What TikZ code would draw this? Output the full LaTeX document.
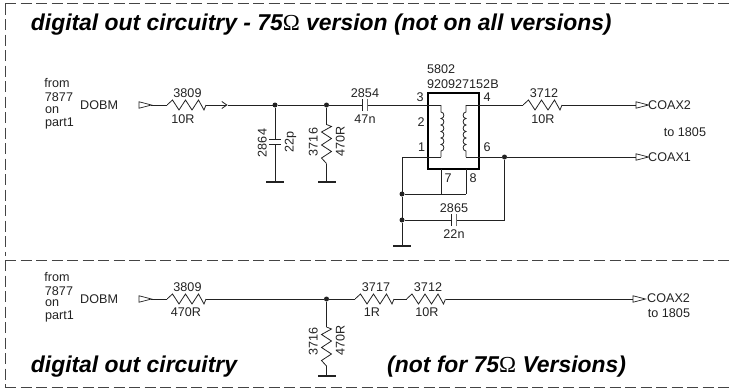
\documentclass[tikz,border=0pt]{standalone}
\usepackage{fontspec}
\usepackage{xcolor}
\usetikzlibrary{arrows.meta,shapes.geometric}
\setmainfont{Liberation Sans}
\newfontfamily\omegafont{Liberation Serif}
\definecolor{wireGrey}{HTML}{222222}
\definecolor{frameGrey}{HTML}{444444}
\newcommand{\ohm}{{\omegafont\mdseries\upshape\symbol{"03A9}}}
\tikzset{
    res/.style={minimum width=39pt, minimum height=12pt, inner sep=0, outer sep=0, path picture={
        \draw[wireGrey, line width=0.8] ([xshift=-19.5pt]path picture bounding box.center) -- ++(5.5pt,5pt) -- ++(6.5pt,-10pt) -- ++(6.5pt,10pt) -- ++(6.5pt,-10pt) -- ++(6.5pt,10pt) -- ++(5.5pt,-10pt) -- ++(2pt,5pt);
    }},
    capa/.style={minimum width=6pt, minimum height=12pt, inner sep=0, outer sep=0, path picture={
        \draw[wireGrey, line width=0.8] ([xshift=-2.5pt,yshift=-6pt]path picture bounding box.center) -- ++(0,12pt);
        \draw[wireGrey, line width=0.8] ([xshift=2.5pt,yshift=-6pt]path picture bounding box.center) -- ++(0,12pt);
    }},
    gnd/.style={rectangle, fill=wireGrey, minimum width=18pt, minimum height=2.4pt, inner sep=0, outer sep=0},
    dot/.style={circle, fill=wireGrey, minimum size=5pt, inner sep=0, outer sep=0},
    port/.style={isosceles triangle, isosceles triangle stretches, draw=wireGrey, line width=0.7, fill=white, minimum width=6.5pt, minimum height=12.5pt, inner sep=0, outer sep=0},
    lbl/.style={font=\fontsize{12.6}{13}\selectfont, text=wireGrey, inner sep=0, text height=9pt, text depth=0pt},
    title/.style={font=\fontsize{22.9}{24}\selectfont\bfseries\itshape, text=black, inner sep=0, anchor=base west},
    wire/.style={color=wireGrey, line width=0.8},
    frameline/.style={color=frameGrey, line width=0.8, dash pattern=on 11pt off 4.5pt}
}
\begin{document}
\begin{tikzpicture}[x=1pt, y=-1pt]
    \useasboundingbox (0,0) rectangle (731,388);

    % frame
    \coordinate (f1) at (5,3.5);
    \coordinate (f2) at (731,3.5);
    \coordinate (f3) at (5,256);
    \coordinate (f4) at (5,260);
    \coordinate (f5) at (731,260);
    \coordinate (f6) at (5,387);
    \coordinate (f7) at (731,387);

    % titles
    \node[title] (title1) at (30.7,30) {digital out circuitry - 75\ohm{} version (not on all versions)};
    \node[title] (title2) at (30.7,372) {digital out circuitry};
    \node[title] (title3) at (387,372) {(not for 75\ohm{} Versions)};

    % upper circuit
    \node[port] (dobm1) at (141.5,105) {};
    \node[res] (r3809a) at (186.5,105) {};
    \coordinate (chev) at (227.5,105);
    \node[dot] (j1) at (275,105) {};
    \node[dot] (j2) at (326.5,105) {};
    \node[capa] (c2854) at (364.5,105) {};
    \node[capa, rotate=90] (c2864) at (275,141.5) {};
    \node[gnd] (g1) at (275,182) {};
    \node[res, rotate=90] (r3716a) at (326.5,144) {};
    \node[gnd] (g2) at (326.5,182) {};
    \node[rectangle, draw=black, line width=2, minimum width=51pt, minimum height=76pt, inner sep=0, outer sep=0] (t5802) at (453.5,131) {};
    \coordinate (coil1a) at (441,105);
    \coordinate (coil1b) at (441,157);
    \coordinate (coil2a) at (466,105);
    \coordinate (coil2b) at (466,157);
    \coordinate (pin7) at (441,169);
    \coordinate (pin8) at (466,169);
    \coordinate (pin7b) at (441,194);
    \coordinate (pin8b) at (466,194);
    \coordinate (left1) at (402,157);
    \node[dot] (j3) at (402,194) {};
    \node[dot] (j4) at (402,220) {};
    \node[gnd] (g3) at (402,246) {};
    \node[dot] (j5) at (504.5,157) {};
    \coordinate (corner1) at (504.5,220);
    \node[capa] (c2865) at (453.5,220) {};
    \node[res] (r3712a) at (542.5,105) {};
    \node[port] (coax2a) at (638.5,105) {};
    \node[port] (coax1) at (638.5,157) {};

    % lower circuit
    \node[port] (dobm2) at (141.5,299) {};
    \node[res] (r3809b) at (186.5,299) {};
    \node[dot] (j6) at (326.5,299) {};
    \node[res, rotate=90] (r3716b) at (326.5,346.5) {};
    \node[gnd] (g4) at (326.5,376) {};
    \node[res] (r3717) at (374.5,299) {};
    \node[res] (r3712b) at (426,299) {};
    \node[port] (coax2b) at (635.5,299) {};

    % labels
    \node[lbl] (a1) at (57,82.5) {from};
    \node[lbl] (a2) at (59,96.5) {7877};
    \node[lbl, anchor=west] (a3) at (45,108.5) {on};
    \node[lbl, anchor=west] (a4) at (45,121.5) {part1};
    \node[lbl, anchor=west] (a5) at (80,105) {DOBM};
    \node[lbl] (a6) at (187.5,92.5) {3809};
    \node[lbl] (a7) at (183,119) {10R};
    \node[lbl] (a8) at (365,92.5) {2854};
    \node[lbl] (a9) at (365,119) {47n};
    \node[lbl, rotate=90] (a10) at (262,143) {2864};
    \node[lbl, rotate=90] (a11) at (289,142) {22p};
    \node[lbl, rotate=90] (a12) at (313,142) {3716};
    \node[lbl, rotate=90] (a13) at (340,141) {470R};
    \node[lbl, anchor=west] (a14) at (427,69) {5802};
    \node[lbl, anchor=west] (a15) at (427,83.5) {920927152B};
    \node[lbl] (a16) at (420,97) {3};
    \node[lbl] (a17) at (487,97) {4};
    \node[lbl] (a18) at (421,122) {2};
    \node[lbl] (a19) at (421.5,147) {1};
    \node[lbl] (a20) at (487,147) {6};
    \node[lbl] (a21) at (448,178) {7};
    \node[lbl] (a22) at (473,178) {8};
    \node[lbl] (a23) at (544,93) {3712};
    \node[lbl] (a24) at (543,119) {10R};
    \node[lbl, anchor=west] (a25) at (648,105) {COAX2};
    \node[lbl] (a26) at (685,132) {to 1805};
    \node[lbl, anchor=west] (a27) at (648,157) {COAX1};
    \node[lbl] (a28) at (454,208) {2865};
    \node[lbl] (a29) at (454,234) {22n};
    \node[lbl] (a30) at (57,276.5) {from};
    \node[lbl] (a31) at (59,290.5) {7877};
    \node[lbl, anchor=west] (a32) at (45,302) {on};
    \node[lbl, anchor=west] (a33) at (45,314.5) {part1};
    \node[lbl, anchor=west] (a34) at (80,299) {DOBM};
    \node[lbl] (a35) at (187.5,287) {3809};
    \node[lbl] (a36) at (186,312) {470R};
    \node[lbl, rotate=90] (a37) at (313,341) {3716};
    \node[lbl, rotate=90] (a38) at (340,340) {470R};
    \node[lbl] (a39) at (376,287) {3717};
    \node[lbl] (a40) at (372,312) {1R};
    \node[lbl] (a41) at (428,287) {3712};
    \node[lbl] (a42) at (427,312) {10R};
    \node[lbl, anchor=west] (a43) at (647,298) {COAX2};
    \node[lbl] (a44) at (669,313) {to 1805};

    \path[frameline]
        (f1) edge (f2)
        (f1) edge (f3)
        (f4) edge (f5)
        (f4) edge (f6)
        (f6) edge (f7)
    ;

    \path[wire]
        (dobm1.east) edge (r3809a.west)
        (r3809a.east) edge[-{Straight Barb[length=5pt,width=7pt]}] (chev)
        (chev) edge (j1)
        (j1) edge (j2)
        (j2) edge (c2854.west)
        (c2854.east) edge (coil1a)
        (j1) edge (c2864.east)
        (c2864.west) edge (g1)
        (j2) edge (r3716a.east)
        (r3716a.west) edge (g2)
        (coil2a) edge (r3712a.west)
        (r3712a.east) edge (coax2a.west)
        (left1) edge (coil1b)
        (left1) edge (j3)
        (j3) edge (j4)
        (j4) edge (g3)
        (j3) edge (pin7b)
        (pin7b) edge (pin8b)
        (pin7) edge (pin7b)
        (pin8) edge (pin8b)
        (coil2b) edge (j5)
        (j5) edge (coax1.west)
        (j5) edge (corner1)
        (corner1) edge (c2865.east)
        (c2865.west) edge (j4)
        (dobm2.east) edge (r3809b.west)
        (r3809b.east) edge (j6)
        (j6) edge (r3716b.east)
        (r3716b.west) edge (g4)
        (j6) edge (r3717.west)
        (r3717.east) edge (r3712b.west)
        (r3712b.east) edge (coax2b.west)
    ;

    % coils
    \draw[wire] (coil1a) -- ++(0,7) \foreach \i in {1,...,6} { to[out=0, in=0, looseness=1.5] ++(0,6.5) } -- (coil1b);
    \draw[wire] (coil2a) -- ++(0,7) \foreach \i in {1,...,6} { to[out=180, in=180, looseness=1.5] ++(0,6.5) } -- (coil2b);
\end{tikzpicture}
\end{document}
